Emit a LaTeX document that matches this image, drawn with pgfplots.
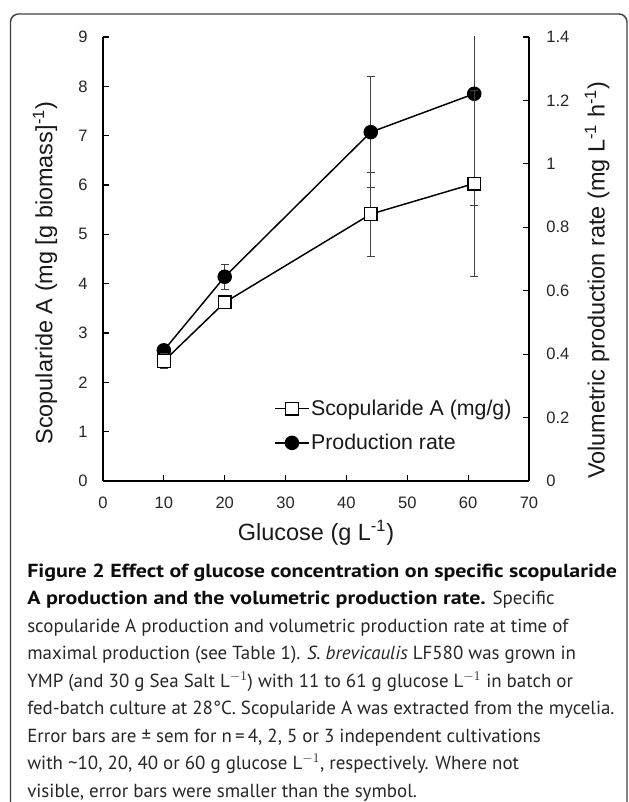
\documentclass[border=0pt]{standalone}
\usepackage{pgfplots}
\pgfplotsset{compat=1.18}
\usepackage{fontspec}
\setmainfont{Liberation Sans}
\newfontfamily\capfont{PT Sans}[BoldFeatures={FakeStretch=1.16}]

\pgfplotsset{
  base/.style={
    at={(77.25pt,-360.75pt)}, anchor=south west, scale only axis,
    width=319.5pt, height=333pt, xmin=0, xmax=70,
    tick align=inside, major tick length=4.5pt,
    tick style={line width=0.9pt, black},
    axis line style={line width=1.2pt, black},
    ticklabel style={font=\fontsize{12.4}{12.4}\selectfont, text=black!85},
    /pgf/number format/assume math mode=true,
    label style={font=\fontsize{17.6}{18}\selectfont, text=black!90},
    clip=true,
  },
  ebars/.style={
    error bars/.cd, y dir=both, y explicit,
    error bar style={line width=0.8pt, black!75},
    error mark options={rotate=90, mark size=3pt, line width=0.8pt, black!75},
  },
}

\begin{document}
\begin{tikzpicture}
\useasboundingbox (0pt,0pt) rectangle (471pt,-601.5pt);
\clip (0pt,0pt) rectangle (471pt,-601.5pt);
\draw[line width=1.1pt, color=black!75, rounded corners=6pt]
  (7.875pt,-625pt) -- (7.875pt,-10.5pt) -- (470.25pt,-10.5pt) -- (470.25pt,-625pt);

% right axis: volumetric production rate
\begin{axis}[base,
  axis y line*=right, axis x line=none,
  ymin=0, ymax=1.4, ytick={0,0.2,0.4,0.6,0.8,1,1.2,1.4},
  yticklabel style={xshift=9.5pt},
  ylabel={Volumetric production rate (mg L\textsuperscript{-1} h\textsuperscript{-1})},
  ylabel style={at={(axis description cs:1.16,0.452)}, anchor=center},
  legend style={draw=none, fill=none, at={(0.392,0.192)}, anchor=north west,
    font=\fontsize{16}{16}\selectfont, text=black!90,
    nodes={inner sep=1pt}, row sep=10.5pt},
  legend cell align=left,
  legend image code/.code={\draw[mark repeat=2,mark phase=2,#1] plot coordinates {(0pt,0pt) (12.75pt,0pt) (25.5pt,0pt)};},
]
\addlegendimage{black, line width=1.1pt, mark=square*, mark size=4.75pt, mark options={fill=white, line width=1pt}}
\addlegendentry{Scopularide A (mg/g)}
\addplot[black, line width=1.1pt, mark=*, mark size=4.9pt, mark options={fill=black}, ebars]
  coordinates {
    (10,0.412) +- (0,0.015)
    (20,0.644) +- (0,0.040)
    (44,1.100) +- (0,0.174)
    (61,1.221) +- (0,0.352)
  };
\addlegendentry{Production rate}
\end{axis}

% left axis: specific scopularide A
\begin{axis}[base,
  axis y line*=left, axis x line*=bottom,
  ymin=0, ymax=9, ytick={0,1,2,3,4,5,6,7,8,9},
  xtick={0,10,20,30,40,50,60,70},
  yticklabel style={xshift=-8pt},
  xticklabel style={yshift=-8.75pt},
  xlabel={Glucose (g L\textsuperscript{-1})},
  xlabel style={at={(axis description cs:0.5,-0.117)}, anchor=center},
  ylabel={Scopularide A (mg [g biomass]\textsuperscript{-1})},
  ylabel style={at={(axis description cs:-0.136,0.468)}, anchor=center},
]
\addplot[black, line width=1.1pt, mark=square*, mark size=4.75pt, mark options={fill=white, line width=1pt}, ebars]
  coordinates {
    (10,2.43) +- (0,0.15)
    (20,3.62) +- (0,0.10)
    (44,5.41) +- (0,0.85)
    (61,6.03) +- (0,1.89)
  };
\end{axis}

% caption
\begin{scope}[every node/.style={anchor=base west, inner sep=0pt, font=\capfont\fontsize{14.2}{14.2}\selectfont, text=black!85}]
\node at (20.25pt,-432.75pt) {\textbf{\color{black!95}Figure 2 Effect of glucose concentration on specific scopularide}};
\node at (20.25pt,-453.375pt) {\textbf{\color{black!95}A production and the volumetric production rate.} Specific};
\node at (20.25pt,-474pt) {scopularide A production and volumetric production rate at time of};
\node at (20.25pt,-494.625pt) {maximal production (see Table 1). \textit{S. brevicaulis} LF580 was grown in};
\node at (20.25pt,-515.25pt) {YMP (and 30 g Sea Salt L$^{-1}$) with 11 to 61 g glucose L$^{-1}$ in batch or};
\node at (20.25pt,-535.875pt) {fed-batch culture at 28°C. Scopularide A was extracted from the mycelia.};
\node at (20.25pt,-556.5pt) {Error bars are ± sem for n\,=\,4, 2, 5 or 3 independent cultivations};
\node at (20.25pt,-577.125pt) {with \textasciitilde10, 20, 40 or 60 g glucose L$^{-1}$, respectively. Where not};
\node at (20.25pt,-597.75pt) {visible, error bars were smaller than the symbol.};
\end{scope}
\end{tikzpicture}
\end{document}
